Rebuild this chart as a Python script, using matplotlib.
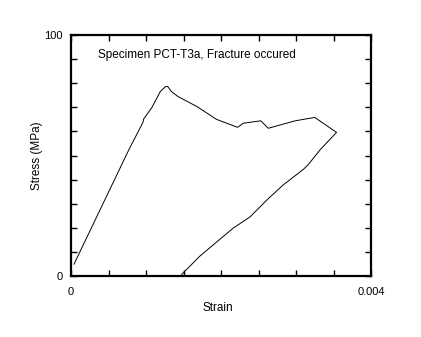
#!/usr/bin/env python3
"""Stress-strain record for specimen PCT-T3a."""

import matplotlib

matplotlib.use("Agg")
import matplotlib.pyplot as plt
from matplotlib.ticker import MultipleLocator, FixedLocator

# loading branch, post-peak softening, then unloading after fracture
strain = [
    0.00004, 0.00077, 0.00096, 0.00097, 0.00108, 0.00119, 0.00126, 0.00129,
    0.00134, 0.00143, 0.00168, 0.00194, 0.00222, 0.00230, 0.00253, 0.00263,
    0.00299, 0.00325, 0.00354, 0.00332, 0.00316, 0.00310, 0.00283, 0.00261,
    0.00239, 0.00216, 0.00172, 0.00148, 0.00147,
]
stress = [
    4.9, 52.3, 63.8, 65.2, 70.0, 76.5, 78.6, 78.6,
    76.5, 74.4, 70.3, 65.0, 61.7, 63.4, 64.4, 61.3,
    64.4, 65.8, 59.6, 52.3, 46.1, 44.3, 37.8, 31.5,
    24.6, 19.8, 8.3, 0.8, 0.0,
]

x_ticks_labeled = [0, 0.004]
x_tick_labels = ["0", "0.004"]
y_ticks_labeled = [0, 100]
y_tick_labels = ["0", "100"]

plt.rcParams["font.family"] = ["Liberation Sans", "DejaVu Sans"]

fig = plt.figure(figsize=(4.21, 3.37), dpi=100)
ax = fig.add_axes([71 / 421, 1 - 276 / 337, 300 / 421, 241 / 337])

ax.plot(strain, stress, color="black", linewidth=0.7)

ax.set_xlim(0, 0.004)
ax.set_ylim(0, 100)

ax.xaxis.set_major_locator(FixedLocator(x_ticks_labeled))
ax.set_xticklabels(x_tick_labels)
ax.xaxis.set_minor_locator(MultipleLocator(0.0005))
ax.yaxis.set_major_locator(FixedLocator(y_ticks_labeled))
ax.set_yticklabels(y_tick_labels)
ax.yaxis.set_minor_locator(MultipleLocator(10))

ax.tick_params(which="both", direction="in", top=True, right=True,
               length=4.2, width=1.0, labelsize=8)
ax.tick_params(axis="x", which="major", pad=8)
ax.tick_params(axis="y", which="major", pad=6)
for spine in ax.spines.values():
    spine.set_linewidth(1.6)

ax.set_xlabel("Strain", fontsize=8.5)
ax.set_ylabel("Stress (MPa)", fontsize=8.5)
ax.xaxis.set_label_coords(0.49, -0.108)
ax.yaxis.set_label_coords(-0.093, 0.5)

ax.text(0.09, 0.915, "Specimen PCT-T3a, Fracture occured",
        transform=ax.transAxes, fontsize=8.5, va="center", ha="left")

fig.savefig("out.png", dpi=100)
